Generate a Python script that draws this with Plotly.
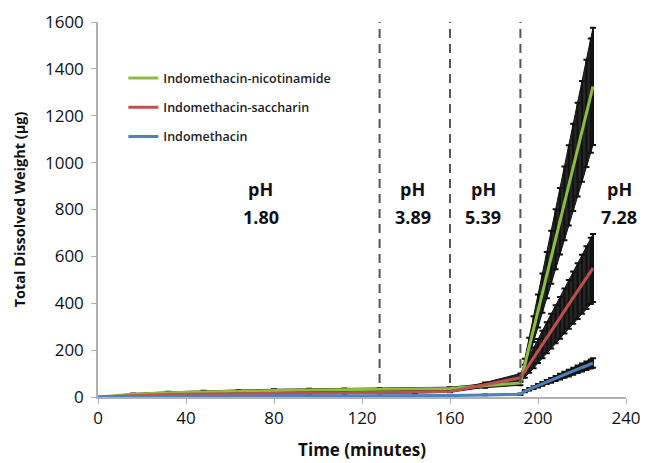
import plotly.graph_objects as go

# ---- data ----
time = [0, 16, 32, 48, 64, 80, 96, 112, 128, 144, 160, 176, 192,
        194, 196, 198, 200, 202, 204, 206, 208, 210, 212, 214, 216, 218, 220, 222, 224, 225]

nicotinamide = [0, 12, 18, 22, 25, 28, 30, 31, 32, 33, 36, 48, 60,
                137, 213, 290, 367, 443, 520, 596, 673, 750, 826, 903, 980, 1056, 1133, 1210, 1286, 1325]
nicotinamide_err = [0, 3, 4, 5, 5, 5, 5, 5, 5, 5, 6, 8, 10,
                    26, 40, 55, 70, 84, 99, 113, 128, 142, 157, 171, 186, 200, 215, 229, 244, 250]

saccharin = [0, 7, 11, 13, 15, 16, 17, 18, 19, 20, 24, 52, 82,
             110, 139, 167, 196, 224, 253, 281, 310, 338, 367, 395, 424, 452, 481, 509, 538, 550]
saccharin_err = [0, 2, 3, 3, 3, 3, 3, 3, 3, 3, 4, 10, 18,
                 28, 36, 44, 51, 59, 66, 74, 81, 89, 96, 104, 111, 119, 126, 134, 141, 145]

indomethacin = [0, 2, 3, 3, 4, 4, 4, 5, 5, 5, 6, 9, 12,
                25, 33, 40, 48, 56, 64, 71, 79, 87, 95, 102, 110, 118, 126, 133, 141, 145]
indomethacin_err = [0, 1, 1, 1, 1, 1, 1, 1, 1, 1, 1, 2, 3,
                    5, 5, 6, 7, 8, 9, 10, 11, 12, 13, 14, 15, 16, 17, 18, 19, 20]

ph_change_times = [128, 160, 192]
ph_labels = ["1.80", "3.89", "5.39", "7.28"]
ph_label_times = [74, 143, 175, 237]

series = [
    ("Indomethacin-nicotinamide", nicotinamide, nicotinamide_err, "#8CBD3F"),
    ("Indomethacin-saccharin", saccharin, saccharin_err, "#C0504D"),
    ("Indomethacin", indomethacin, indomethacin_err, "#4F81BD"),
]

fig = go.Figure()

# error band + error bars first (underneath all lines)
for name, vals, err, col in series:
    upper = [v + e for v, e in zip(vals, err)]
    lower = [v - e for v, e in zip(vals, err)]
    fig.add_trace(go.Scatter(
        x=time + time[::-1], y=upper + lower[::-1], mode="lines",
        fill="toself", fillcolor="#262626", line=dict(color="#111111", width=1),
        showlegend=False, hoverinfo="skip"))
    fig.add_trace(go.Scatter(
        x=time, y=vals, mode="markers", marker=dict(size=1, color="rgba(0,0,0,0)"),
        error_y=dict(type="data", array=err, visible=True, color="#111111",
                     thickness=2, width=3),
        showlegend=False, hoverinfo="skip"))

for i, (name, vals, err, col) in enumerate(series):
    fig.add_trace(go.Scatter(
        x=time, y=vals, mode="lines", name=name, legendgroup=f"g{i}",
        line=dict(color=col, width=3)))

for t in ph_change_times:
    fig.add_shape(type="line", xref="x", yref="y", x0=t, x1=t, y0=60, y1=1600,
                  line=dict(color="#555555", width=2, dash="9px,6px"))

for t, lab in zip(ph_label_times, ph_labels):
    fig.add_annotation(x=t, y=887, xref="x", yref="y", text="pH",
                       showarrow=False, align="center",
                       font=dict(family="Open Sans", size=18, color="#111111", weight="bold"))
    fig.add_annotation(x=t, y=768, xref="x", yref="y", text=lab,
                       showarrow=False, align="center",
                       font=dict(family="Open Sans", size=18, color="#111111", weight="bold"))

fig.update_layout(
    width=640, height=455,
    margin=dict(l=90, r=22, t=14, b=66),
    paper_bgcolor="white", plot_bgcolor="white",
    showlegend=True,
    legend=dict(x=0.048, y=0.89, xanchor="left", yanchor="top",
                font=dict(family="Open Sans", size=12.5, color="#222222", weight=600),
                bgcolor="rgba(255,255,255,0)", tracegroupgap=10, itemwidth=30),
)

tickfont = dict(family="Open Sans", size=17, color="#111111", weight=500)

fig.update_xaxes(range=[0, 240], tickvals=[0, 40, 80, 120, 160, 200, 240],
                 automargin=False,
                 showline=True, linecolor="#b0b0b0", linewidth=1.5,
                 ticks="outside", ticklen=5, tickcolor="#b0b0b0",
                 showgrid=False, zeroline=False, tickfont=tickfont,
                 title=dict(text="Time (minutes)", standoff=16,
                            font=dict(family="Open Sans", size=17, color="#111111", weight="bold")))
fig.update_yaxes(range=[0, 1600], tickvals=[0, 200, 400, 600, 800, 1000, 1200, 1400, 1600],
                 automargin=False,
                 showline=True, linecolor="#b0b0b0", linewidth=1.5,
                 ticks="outside", ticklen=5, tickcolor="#b0b0b0",
                 ticklabelstandoff=4,
                 showgrid=False, zeroline=False, tickfont=tickfont,
                 title=dict(text="Total Dissolved Weight (µg)", standoff=16,
                            font=dict(family="Open Sans", size=14.5, color="#111111", weight="bold")))

fig.write_html("out.html")
